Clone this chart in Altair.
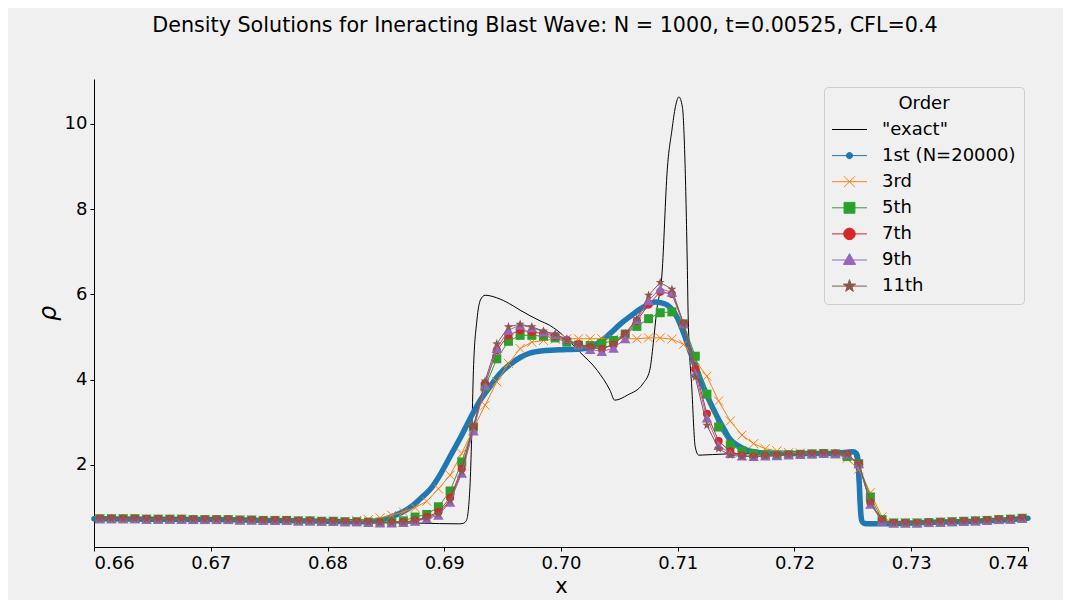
import altair as alt
import pandas as pd

# ---------------- data ----------------
series_names = ['"exact"', "1st (N=20000)", "3rd", "5th", "7th", "9th", "11th"]
series_colors = ["#000000", "#1f77b4", "#ff7f0e", "#2ca02c", "#d62728", "#9467bd", "#8c564b"]

exact_x = [0.6600, 0.6700, 0.6800, 0.6880, 0.6912, 0.6916, 0.6919, 0.6922, 0.69235, 0.6925,
           0.6928, 0.6931, 0.6935, 0.6945, 0.6956, 0.6965, 0.6982, 0.6990, 0.7005, 0.7016,
           0.7031, 0.7042, 0.7046, 0.7057, 0.7070, 0.7076, 0.7079, 0.7082, 0.70865, 0.7091,
           0.7095, 0.7098, 0.7101, 0.7104, 0.7106, 0.7108, 0.7109, 0.7112, 0.7115, 0.7118,
           0.7142, 0.7200, 0.7250, 0.7253, 0.7255, 0.7257, 0.7262, 0.7300, 0.7350, 0.7400]
exact_rho = [0.74, 0.70, 0.67, 0.635, 0.62, 0.63, 0.70, 1.48, 2.66, 4.22,
             5.40, 5.87, 5.98, 5.92, 5.78, 5.63, 5.38, 5.28, 4.96, 4.65,
             4.22, 3.75, 3.52, 3.64, 3.90, 4.22, 4.84, 5.63, 6.48, 8.92,
             9.85, 10.40, 10.63, 10.39, 9.29, 6.95, 5.40, 3.83, 2.42, 2.23,
             2.26, 2.27, 2.30, 2.00, 1.00, 0.65, 0.62, 0.64, 0.68, 0.75]

first_x = [0.660, 0.665, 0.670, 0.675, 0.680, 0.683, 0.6845, 0.6854, 0.6863, 0.6871,
           0.6880, 0.6890, 0.6896, 0.6905, 0.6914, 0.6922, 0.6930, 0.6939, 0.6947, 0.6956,
           0.6965, 0.6973, 0.6985, 0.6999, 0.7016, 0.7025, 0.7033, 0.7042, 0.7051, 0.7060,
           0.7068, 0.7075, 0.7081, 0.7086, 0.7091, 0.7097, 0.7102, 0.7106, 0.7110, 0.7116,
           0.7122, 0.7128, 0.7134, 0.7140, 0.7145, 0.7152, 0.7159, 0.7167, 0.7176, 0.7200,
           0.7230, 0.7245, 0.7250, 0.7253, 0.72545, 0.7255, 0.72555, 0.7256, 0.72565, 0.7257,
           0.7258, 0.7260, 0.7265, 0.7270, 0.7290, 0.7310, 0.7340, 0.7370, 0.7400]
first_rho = [0.74, 0.73, 0.72, 0.70, 0.68, 0.67, 0.70, 0.78, 0.88, 1.01,
             1.22, 1.50, 1.75, 2.20, 2.65, 3.08, 3.48, 3.83, 4.12, 4.35,
             4.52, 4.62, 4.68, 4.70, 4.72, 4.76, 4.88, 5.08, 5.31, 5.50,
             5.66, 5.76, 5.82, 5.80, 5.75, 5.58, 5.31, 5.02, 4.70, 4.25,
             3.83, 3.45, 3.12, 2.82, 2.60, 2.45, 2.35, 2.30, 2.28, 2.27,
             2.27, 2.30, 2.31, 2.27, 2.10, 1.85, 1.55, 1.25, 0.98, 0.80,
             0.67, 0.63, 0.62, 0.62, 0.63, 0.65, 0.67, 0.70, 0.75]

# cell centres of the N=1000 grid shown in the window
grid_x = [round(0.6605 + 0.001 * k, 4) for k in range(80)]

rho_3rd = [0.74, 0.74, 0.74, 0.74, 0.73, 0.73, 0.73, 0.73, 0.72, 0.72,
           0.72, 0.72, 0.71, 0.71, 0.70, 0.70, 0.70, 0.69, 0.69, 0.68,
           0.68, 0.68, 0.70, 0.72, 0.76, 0.82, 0.90, 1.00, 1.15, 1.44,
           1.76, 2.27, 2.85, 3.40, 3.95, 4.38, 4.73, 4.88, 4.92, 4.95,
           4.96, 4.96, 4.96, 4.96, 4.95, 4.96, 4.96, 4.98, 4.98, 4.95,
           4.83, 4.45, 4.08, 3.50, 3.03, 2.70, 2.50, 2.38, 2.33, 2.29,
           2.28, 2.27, 2.27, 2.26, 2.15, 1.90, 1.35, 0.78, 0.64, 0.64,
           0.64, 0.65, 0.66, 0.67, 0.68, 0.69, 0.70, 0.72, 0.73, 0.75]
rho_5th = [0.74, 0.74, 0.74, 0.74, 0.73, 0.73, 0.73, 0.73, 0.72, 0.72,
           0.72, 0.72, 0.71, 0.71, 0.70, 0.70, 0.70, 0.69, 0.69, 0.68,
           0.68, 0.67, 0.67, 0.66, 0.66, 0.66, 0.69, 0.78, 0.84, 1.02,
           1.39, 2.07, 2.89, 3.83, 4.49, 4.90, 5.04, 5.04, 5.02, 4.98,
           4.88, 4.81, 4.80, 4.85, 4.92, 5.07, 5.25, 5.43, 5.57, 5.59,
           5.31, 4.55, 3.66, 2.89, 2.47, 2.33, 2.26, 2.24, 2.23, 2.24,
           2.25, 2.26, 2.27, 2.26, 2.20, 2.03, 1.25, 0.72, 0.64, 0.64,
           0.64, 0.65, 0.66, 0.67, 0.68, 0.69, 0.70, 0.72, 0.73, 0.75]
rho_7th = [0.74, 0.74, 0.74, 0.74, 0.73, 0.73, 0.73, 0.73, 0.72, 0.72,
           0.72, 0.72, 0.71, 0.71, 0.70, 0.70, 0.70, 0.69, 0.69, 0.68,
           0.68, 0.67, 0.67, 0.66, 0.65, 0.65, 0.66, 0.70, 0.78, 0.90,
           1.23, 1.91, 2.89, 3.91, 4.69, 5.04, 5.16, 5.12, 5.08, 5.02,
           4.93, 4.83, 4.76, 4.72, 4.82, 5.07, 5.38, 5.76, 6.06, 6.01,
           5.31, 4.25, 3.20, 2.56, 2.32, 2.22, 2.20, 2.21, 2.22, 2.24,
           2.25, 2.26, 2.27, 2.27, 2.25, 2.03, 1.12, 0.70, 0.64, 0.64,
           0.64, 0.65, 0.66, 0.67, 0.68, 0.69, 0.70, 0.72, 0.73, 0.75]
rho_9th = [0.74, 0.74, 0.74, 0.74, 0.73, 0.73, 0.73, 0.73, 0.72, 0.72,
           0.72, 0.72, 0.71, 0.71, 0.70, 0.70, 0.70, 0.69, 0.69, 0.68,
           0.68, 0.67, 0.67, 0.65, 0.64, 0.64, 0.65, 0.68, 0.74, 0.82,
           1.13, 1.81, 2.80, 3.87, 4.73, 5.16, 5.28, 5.22, 5.12, 5.06,
           4.96, 4.82, 4.71, 4.66, 4.74, 4.96, 5.41, 5.86, 6.13, 6.05,
           5.31, 4.15, 3.10, 2.46, 2.27, 2.21, 2.20, 2.21, 2.22, 2.24,
           2.25, 2.26, 2.27, 2.27, 2.25, 2.03, 1.08, 0.68, 0.64, 0.64,
           0.64, 0.65, 0.66, 0.67, 0.68, 0.69, 0.70, 0.72, 0.73, 0.75]
rho_11th = [0.74, 0.74, 0.74, 0.74, 0.73, 0.73, 0.73, 0.73, 0.72, 0.72,
            0.72, 0.72, 0.71, 0.71, 0.70, 0.70, 0.70, 0.69, 0.69, 0.68,
            0.68, 0.67, 0.67, 0.66, 0.65, 0.65, 0.66, 0.69, 0.76, 0.86,
            1.17, 1.86, 2.90, 3.97, 4.84, 5.24, 5.30, 5.24, 5.14, 5.07,
            4.93, 4.81, 4.76, 4.72, 4.84, 5.08, 5.43, 5.98, 6.28, 6.12,
            5.31, 4.06, 2.93, 2.38, 2.23, 2.20, 2.20, 2.21, 2.22, 2.24,
            2.25, 2.26, 2.27, 2.27, 2.25, 2.03, 1.12, 0.70, 0.64, 0.64,
            0.64, 0.65, 0.66, 0.67, 0.68, 0.69, 0.70, 0.72, 0.73, 0.75]

x_ticks = [0.66, 0.67, 0.68, 0.69, 0.70, 0.71, 0.72, 0.73, 0.74]
y_ticks = [2, 4, 6, 8, 10]

# ---------------- styling helpers ----------------
FONT = "DejaVu Sans"
STAR = [(0, -1), (0.235, -0.324), (0.951, -0.309), (0.380, 0.124), (0.588, 0.809),
        (0, 0.4), (-0.588, 0.809), (-0.380, 0.124), (-0.951, -0.309), (-0.235, -0.324)]


def fmt(v):
    s = ("%.3f" % v).rstrip("0").rstrip(".")
    return "0" if s in ("-0", "") else s


def star_path(cx, s):
    pts = [(cx + s * a, s * b) for a, b in STAR]
    return "M" + "L".join(f"{fmt(a)},{fmt(b)}" for a, b in pts) + "Z"


def circle_path(cx, r):
    return (f"M{fmt(cx + r)},0A{fmt(r)},{fmt(r)},0,1,1,{fmt(cx - r)},0"
            f"A{fmt(r)},{fmt(r)},0,1,1,{fmt(cx + r)},0Z")


def square_path(cx, a):
    return f"M{fmt(cx - a)},{fmt(-a)}L{fmt(cx + a)},{fmt(-a)}L{fmt(cx + a)},{fmt(a)}L{fmt(cx - a)},{fmt(a)}Z"


def tri_path(cx, a):
    return f"M{fmt(cx)},{fmt(-1.05 * a)}L{fmt(cx + a)},{fmt(0.72 * a)}L{fmt(cx - a)},{fmt(0.72 * a)}Z"


def x_path(cx, a):
    return f"M{fmt(cx - a)},{fmt(-a)}L{fmt(cx + a)},{fmt(a)}M{fmt(cx - a)},{fmt(a)}L{fmt(cx + a)},{fmt(-a)}"


# legend symbols: a line segment with the marker in its middle
CX = 0.914
LINE = "M-1.086,0L2.914,0"
legend_shapes = [
    LINE,
    LINE + circle_path(CX, 0.36),
    LINE + x_path(CX, 0.62),
    LINE + square_path(CX, 0.62),
    LINE + circle_path(CX, 0.66),
    LINE + tri_path(CX, 0.70),
    LINE + star_path(CX, 0.74),
]

legend_def = alt.Legend(
    title="Order", orient="none", legendX=730, legendY=8,
    titleAnchor="middle", titleFont=FONT, titleFontSize=18, titleFontWeight="normal",
    titleColor="#000000", titlePadding=7,
    labelFont=FONT, labelFontSize=18, labelColor="#000000", labelOffset=31,
    symbolSize=306, symbolStrokeWidth=1, symbolOpacity=1, rowPadding=7.1,
    fillColor="#f0f0f0", strokeColor="#cccccc", cornerRadius=4, padding=8,
)

x_enc = alt.X("x:Q", scale=alt.Scale(domain=[0.66, 0.74], nice=False, zero=False),
              axis=alt.Axis(values=x_ticks, format=".2f", title="x", titleFontSize=21,
                            titlePadding=3.5))
y_enc = alt.Y("rho:Q", scale=alt.Scale(domain=[0.077, 11.05], nice=False, zero=False),
              axis=alt.Axis(values=y_ticks, format="d", title="ρ", titleFontSize=24,
                            titleFontStyle="italic", titlePadding=4))


def frame(xs, ys, name):
    return pd.DataFrame({"x": xs, "rho": ys, "series": name})


layers = []

# legend carrier: first value of each series, drawn tiny underneath everything
legend_df = pd.DataFrame({
    "x": [exact_x[0], first_x[0], grid_x[0], grid_x[0], grid_x[0], grid_x[0], grid_x[0]],
    "rho": [exact_rho[0], first_rho[0], rho_3rd[0], rho_5th[0], rho_7th[0], rho_9th[0], rho_11th[0]],
    "series": series_names,
})
layers.append(alt.Chart(legend_df).mark_point(filled=True, size=1, opacity=1).encode(
    x=x_enc, y=y_enc,
    fill=alt.Fill("series:N", scale=alt.Scale(domain=series_names, range=series_colors),
                  legend=legend_def),
    stroke=alt.Stroke("series:N", scale=alt.Scale(domain=series_names, range=series_colors),
                      legend=legend_def),
    shape=alt.Shape("series:N", scale=alt.Scale(domain=series_names, range=legend_shapes),
                    legend=legend_def),
))

layers.append(alt.Chart(frame(exact_x, exact_rho, series_names[0])).mark_line(
    strokeWidth=1, interpolate="monotone", color=series_colors[0]).encode(x=x_enc, y=y_enc))
layers.append(alt.Chart(frame(first_x, first_rho, series_names[1])).mark_line(
    strokeWidth=5.5, interpolate="monotone", strokeCap="round", strokeJoin="round",
    color=series_colors[1]).encode(x=x_enc, y=y_enc))

marker_specs = [
    ("3rd", rho_3rd, series_colors[2], dict(shape="M-1,-1L1,1M-1,1L1,-1", filled=False, size=81, strokeWidth=1)),
    ("5th", rho_5th, series_colors[3], dict(shape="square", filled=True, size=81)),
    ("7th", rho_7th, series_colors[4], dict(shape="circle", filled=True, size=66)),
    ("9th", rho_9th, series_colors[5], dict(shape="triangle-up", filled=True, size=110)),
    ("11th", rho_11th, series_colors[6], dict(shape=star_path(0, 1), filled=True, size=90)),
]
for name, vals, col, mk in marker_specs:
    df = frame(grid_x, vals, name)
    layers.append(alt.Chart(df).mark_line(strokeWidth=1, color=col).encode(x=x_enc, y=y_enc))
    layers.append(alt.Chart(df).mark_point(opacity=1, color=col, **mk).encode(x=x_enc, y=y_enc))

chart = alt.layer(*layers).properties(
    width=934, height=468,
    autosize=alt.AutoSizeParams(type="none"),
    padding={"left": 86, "top": 71, "right": 35, "bottom": 53},
    background="#f0f0f0",
    title=alt.TitleParams(
        "Density Solutions for Ineracting Blast Wave: N = 1000, t=0.00525, CFL=0.4",
        font=FONT, fontSize=20.7, fontWeight="normal", color="#000000",
        anchor="middle", baseline="alphabetic", offset=26, dx=-16),
).configure_view(strokeWidth=0).configure_axis(
    labelFont=FONT, labelFontSize=18, labelColor="#000000", labelPadding=3,
    domainColor="#000000", domainWidth=1, tickColor="#000000", tickSize=4, tickWidth=1,
    grid=False, titleFont=FONT, titleFontWeight="normal", titleColor="#000000",
)

chart.save("out.html", embed_options={"renderer": "svg", "actions": False})
